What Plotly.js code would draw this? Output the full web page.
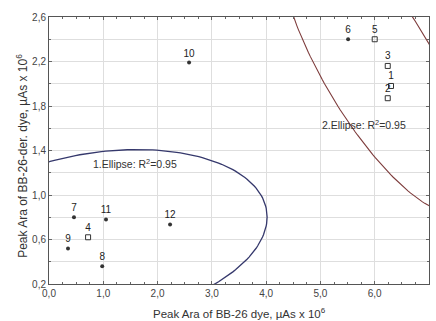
<!DOCTYPE html>
<html>
<head>
<meta charset="utf-8">
<script src="https://cdn.plot.ly/plotly-3.0.1.min.js"></script>
<style>body{margin:0;padding:0;background:#fff;}#chart{width:436px;height:321px;}</style>
</head>
<body>
<div id="chart"></div>
<script>
// Data
const pointLabels = ['1','2','3','4','5','6','7','8','9','10','11','12'];
const xVals = [6.30, 6.24, 6.24, 0.72, 6.00, 5.51, 0.46, 0.98, 0.35, 2.58, 1.05, 2.23];
const yVals = [1.98, 1.87, 2.16, 0.62, 2.40, 2.40, 0.80, 0.36, 0.52, 2.19, 0.78, 0.735];
const markerKind = ['square','square','square','square','square','dot','dot','dot','dot','dot','dot','dot'];
const group1 = ['4','7','8','9','11','12'];
const group2 = ['1','2','3','5','6'];
const ellipseLevel = 0.95;
const xTickVals = [0,1,2,3,4,5,6,7];
const xTickText = ['0,0','1,0','2,0','3,0','4,0','5,0','6,0','7,0'];
const yTickVals = [0.2,0.6,1.0,1.4,1.8,2.2,2.6];
const yTickText = ['0,2','0,6','1,0','1,4','1,8','2,2','2,6'];
const ellipseLabels = ['1.Ellipse: R<sup>2</sup>=0.95', '2.Ellipse: R<sup>2</sup>=0.95'];
const xTitle = 'Peak Ara of BB-26 dye, µAs x 10<sup>6</sup>';
const yTitle = 'Peak Ara of BB-26-der. dye, µAs x 10<sup>6</sup>';

function ellipseFor(group){
  const idx = group.map(l => pointLabels.indexOf(l));
  const n = idx.length;
  const xs = idx.map(i => xVals[i]), ys = idx.map(i => yVals[i]);
  const mx = xs.reduce((a,b)=>a+b,0)/n, my = ys.reduce((a,b)=>a+b,0)/n;
  let sxx=0, syy=0, sxy=0;
  for(let i=0;i<n;i++){ const dx=xs[i]-mx, dy=ys[i]-my; sxx+=dx*dx; syy+=dy*dy; sxy+=dx*dy; }
  sxx/=(n-1); syy/=(n-1); sxy/=(n-1);
  const m = n-2;
  const F = (m/2)*(Math.pow(1-ellipseLevel, -2/m) - 1);
  const k = Math.sqrt(2*(n-1)*(n+1)/(n*m) * F);
  const l11 = Math.sqrt(sxx), l21 = sxy/l11, l22 = Math.sqrt(syy - l21*l21);
  const ex=[], ey=[];
  for(let j=0;j<=240;j++){
    const t = 2*Math.PI*j/240, c=Math.cos(t), s=Math.sin(t);
    ex.push(mx + k*l11*c);
    ey.push(my + k*(l21*c + l22*s));
  }
  return {x:ex, y:ey};
}

const e1 = ellipseFor(group1), e2 = ellipseFor(group2);
const sqIdx = markerKind.map((k,i)=>k==='square'?i:-1).filter(i=>i>=0);
const dotIdx = markerKind.map((k,i)=>k==='dot'?i:-1).filter(i=>i>=0);
const FONT = 'Liberation Sans, Arial, sans-serif';

const traces = [
  {x:e1.x, y:e1.y, mode:'lines', line:{color:'#35386c', width:1.3}, hoverinfo:'skip'},
  {x:e2.x, y:e2.y, mode:'lines', line:{color:'#7d3b3b', width:1.1}, hoverinfo:'skip'},
  {x:sqIdx.map(i=>xVals[i]), y:sqIdx.map(i=>yVals[i]), text:sqIdx.map(i=>pointLabels[i]),
   mode:'markers+text', textposition:'top center', cliponaxis:false,
   textfont:{family:FONT, size:10, color:'#222'},
   marker:{symbol:'square-open', size:5, color:'#333', line:{width:1, color:'#333'}}},
  {x:dotIdx.map(i=>xVals[i]), y:dotIdx.map(i=>yVals[i]), text:dotIdx.map(i=>pointLabels[i]),
   mode:'markers+text', textposition:'top center', cliponaxis:false,
   textfont:{family:FONT, size:10, color:'#222'},
   marker:{symbol:'circle', size:4, color:'#333'}}
];

const axisCommon = {
  showline:true, linecolor:'#555', linewidth:1, mirror:'ticks',
  ticks:'inside', ticklen:3, tickcolor:'#666', gridcolor:'#dedede', gridwidth:1,
  zeroline:false, tickfont:{family:FONT, size:10, color:'#444'}
};

const layout = {
  width:436, height:321,
  margin:{l:49, r:7, t:17, b:37},
  paper_bgcolor:'#fff', plot_bgcolor:'#fff',
  showlegend:false,
  font:{family:FONT},
  xaxis: Object.assign({}, axisCommon, {
    range:[0,7], tickmode:'array', tickvals:xTickVals, ticktext:xTickText,
    minor:{dtick:0.25, ticks:'inside', ticklen:2, tickcolor:'#666', showgrid:false}
  }),
  yaxis: Object.assign({}, axisCommon, {
    range:[0.2,2.6], tickmode:'array', tickvals:yTickVals, ticktext:yTickText,
    minor:{tick0:0.2, dtick:0.2, ticks:'inside', ticklen:2, tickcolor:'#666',
           showgrid:true, gridcolor:'#dedede', gridwidth:1}
  }),
  annotations:[
    {x:1.59, y:1.28, xref:'x', yref:'y', text:ellipseLabels[0], showarrow:false,
     font:{size:10.5, color:'#333'}},
    {x:5.80, y:1.63, xref:'x', yref:'y', text:ellipseLabels[1], showarrow:false,
     font:{size:10.5, color:'#333'}},
    {x:0.5, y:-0.108, xref:'paper', yref:'paper', xanchor:'center', yanchor:'middle',
     text:xTitle, showarrow:false, font:{size:11.5, color:'#333'}},
    {x:-0.071, y:0.48, xref:'paper', yref:'paper', xanchor:'center', yanchor:'middle',
     textangle:-90, text:yTitle, showarrow:false, font:{size:12, color:'#333'}}
  ]
};

Plotly.newPlot('chart', traces, layout, {staticPlot:true, displayModeBar:false});
</script>
</body>
</html>
